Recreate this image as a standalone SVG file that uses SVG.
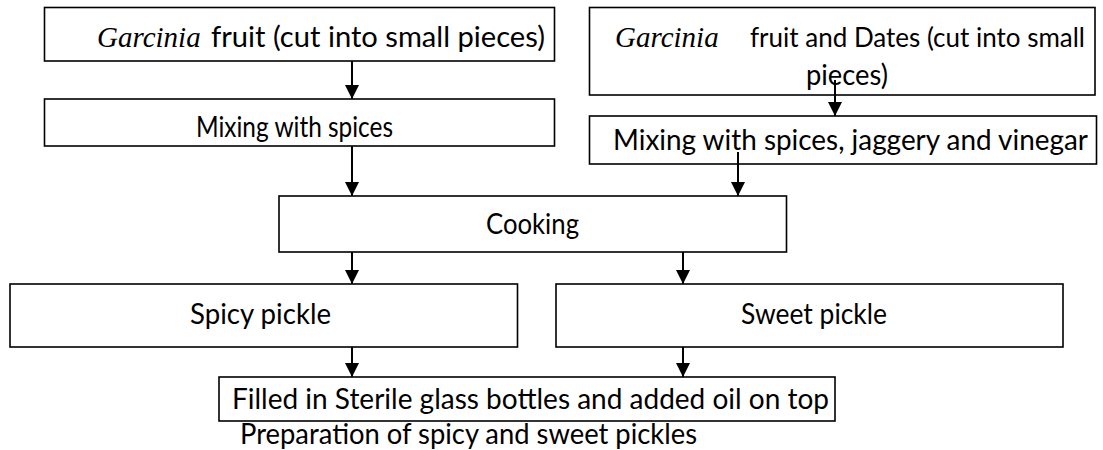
<svg xmlns="http://www.w3.org/2000/svg" width="1103" height="450" viewBox="0 0 1103 450">
<style>
  .box { fill: #ffffff; stroke: #000000; stroke-width: 1.6; }
  .t { font-family: Lato, "Open Sans", "Liberation Sans", sans-serif; font-size: 28px; fill: #000000; }
  .it { font-family: "Liberation Serif", "Times New Roman", serif; font-style: italic; font-size: 29px; fill: #000000; }
  .conn line { stroke: #000000; stroke-width: 2; marker-end: url(#ah); }
</style>
<defs>
  <marker id="ah" markerUnits="userSpaceOnUse" markerWidth="14" markerHeight="14" refX="14" refY="7" orient="auto" viewBox="0 0 14 14">
    <path d="M0,0 L14,7 L0,14 Z" fill="#000000"/>
  </marker>
</defs>
<rect width="1103" height="450" fill="#ffffff"/>
<g id="n1">
  <rect class="box" x="44.5" y="7.5" width="510" height="53.5"/>
  <text class="it" x="97" y="47">Garcinia</text>
  <text class="t" x="211" y="47" textLength="334" lengthAdjust="spacingAndGlyphs">fruit (cut into small pieces)</text>
</g>
<g id="n2">
  <rect class="box" x="44.5" y="99" width="510" height="47"/>
  <text class="t" x="196" y="137" textLength="197" lengthAdjust="spacingAndGlyphs">Mixing with spices</text>
</g>
<g id="n3">
  <rect class="box" x="589.5" y="7.5" width="505.5" height="87.5"/>
  <text class="it" x="615" y="47">Garcinia</text>
  <text class="t" x="750" y="47" font-size="25" textLength="335" lengthAdjust="spacingAndGlyphs" style="font-size:26px">fruit and Dates (cut into small</text>
  <text class="t" x="806" y="85" textLength="82" lengthAdjust="spacingAndGlyphs">pieces)</text>
</g>
<g id="n4">
  <rect class="box" x="589.5" y="116" width="507" height="48"/>
  <text class="t" x="613" y="150" textLength="475" lengthAdjust="spacingAndGlyphs">Mixing with spices, jaggery and vinegar</text>
</g>
<g id="n5">
  <rect class="box" x="279" y="196" width="507.5" height="56"/>
  <text class="t" x="486" y="234" textLength="93" lengthAdjust="spacingAndGlyphs">Cooking</text>
</g>
<g id="n6">
  <rect class="box" x="10" y="284" width="507.5" height="63"/>
  <text class="t" x="190" y="324" textLength="141" lengthAdjust="spacingAndGlyphs">Spicy pickle</text>
</g>
<g id="n7">
  <rect class="box" x="556" y="284" width="507" height="63"/>
  <text class="t" x="741" y="324" textLength="146" lengthAdjust="spacingAndGlyphs">Sweet pickle</text>
</g>
<g id="n8">
  <rect class="box" x="219" y="377" width="616" height="44"/>
  <text class="t" x="232" y="409" textLength="597" lengthAdjust="spacingAndGlyphs">Filled in Sterile glass bottles and added oil on top</text>
</g>
<g id="caption">
  <text class="t" x="240" y="444" textLength="457" lengthAdjust="spacingAndGlyphs">Preparation of spicy and sweet pickles</text>
</g>
<g id="connectors" class="conn">
  <line x1="352" y1="61" x2="352" y2="99"/>
  <line x1="835" y1="80" x2="835" y2="116"/>
  <line x1="352" y1="146" x2="352" y2="196"/>
  <line x1="738" y1="152" x2="738" y2="196"/>
  <line x1="352" y1="252" x2="352" y2="284"/>
  <line x1="683" y1="252" x2="683" y2="284"/>
  <line x1="352" y1="347" x2="352" y2="377"/>
  <line x1="683" y1="347" x2="683" y2="377"/>
</g>
</svg>
